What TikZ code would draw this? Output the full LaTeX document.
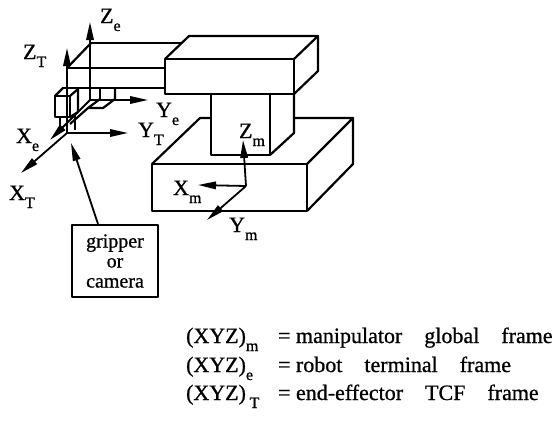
\documentclass[tikz,border=0pt]{standalone}
\usepackage{fontspec}
\setmainfont{Liberation Serif}[FakeBold=0.8]
\usetikzlibrary{arrows.meta}
\newcommand\lsub[1]{\raisebox{-8pt}{\fontsize{16}{16}\selectfont #1}}
\begin{document}
\begin{tikzpicture}[x=1pt,y=-1pt, line width=2.2pt, line join=round,
  ax/.style={line width=1.8pt,-{Triangle[length=18pt,width=7.5pt]}},
  lbl/.style={anchor=base west, inner sep=0pt, font=\fontsize{22}{26}\selectfont}]
\useasboundingbox (0,0) rectangle (556,426);
% base
\draw (152,164) rectangle (307,211);
\draw (152,164) -- (200,118) -- (211,118);
\draw (294,118) -- (353,118) -- (307,164);
\draw (353,118) -- (353,164) -- (307,211);
% column
\draw (211,94) -- (211,155) -- (270,155) -- (270,94);
\draw (270,155) -- (294,133) -- (294,94);
% top block
\draw (165,59) rectangle (294,94);
\draw (165,59) -- (189,36) -- (318,36) -- (294,59);
\draw (318,36) -- (318,71) -- (294,94);
% beam
\draw (91,43) -- (181,43);
\draw (67,68) -- (91,43);
\draw (67,68) -- (165,68);
\draw (62,88) -- (165,88);
% wrist
\draw (100,88) -- (100,99);
\draw (115,88) -- (115,99) -- (103,108) -- (88,108);
\draw (100,99) -- (88,108) -- (70,124);
% small cube
\draw (55,96) rectangle (70,117);
\draw (55,96) -- (63,88);
\draw (70,96) -- (78,89);
\draw (78,88) -- (78,112) -- (70,117);
\draw (60,117) -- (60,131);
\draw (75,113) -- (75,130);
% frames
\coordinate (Oe) at (90,100); \coordinate (Ze) at (90,22);
\coordinate (Ye) at (148,100); \coordinate (Xe) at (50,140);
\coordinate (OT) at (67,133); \coordinate (ZT) at (67,48);
\coordinate (YT) at (128,133); \coordinate (XT) at (21,173);
\coordinate (Om) at (246,186); \coordinate (Zm) at (243,140);
\coordinate (Xm) at (198,185); \coordinate (Ym) at (207,220);
\draw[ax] (Oe) -- (Ze);
\draw[ax] (Oe) -- (Ye);
\draw[ax] (Oe) -- (Xe);
\draw[ax] (OT) -- (ZT);
\draw[ax] (OT) -- (YT);
\draw[ax] (OT) -- (XT);
\draw[ax] (Om) -- (Zm);
\draw[ax] (Om) -- (Xm);
\draw[ax] (Om) -- (Ym);
% labels
\node[lbl] (lZe) at (99,23) {Z\lsub{e}};
\node[lbl] (lZT) at (22,59) {Z\lsub{T}};
\node[lbl] (lYe) at (155,117) {Y\lsub{e}};
\node[lbl] (lYT) at (137,137) {Y\lsub{T}};
\node[lbl] (lXe) at (15,143) {X\lsub{e}};
\node[lbl] (lXT) at (8,200) {X\lsub{T}};
\node[lbl] (lZm) at (238,138) {Z\lsub{m}};
\node[lbl] (lXm) at (172,195) {X\lsub{m}};
\node[lbl] (lYm) at (228,232) {Y\lsub{m}};
% gripper box
\node[draw, line width=2.2pt, minimum width=86pt, minimum height=72pt, inner sep=0pt,
  align=center, font=\fontsize{20}{20}\selectfont] (grip) at (115,261) {gripper\\or\\camera};
\coordinate (gtip) at (71,143);
\draw[ax] ([xshift=-17pt]grip.north) -- (gtip);
% legend
\node[lbl] (L1a) at (185,343) {(XYZ)\lsub{m}};
\node[lbl] (L2a) at (185,372) {(XYZ)\lsub{e}};
\node[lbl] (L3a) at (185,400) {(XYZ)\,\lsub{T}};
\node[lbl] (L1b) at (277,343) {= manipulator\hspace{1em}global\hspace{1em}frame};
\node[lbl] (L2b) at (277,372) {= robot\hspace{1em}terminal\hspace{1em}frame};
\node[lbl] (L3b) at (277,400) {= end-effector\hspace{1em}TCF\hspace{1em}frame};
\end{tikzpicture}
\end{document}
